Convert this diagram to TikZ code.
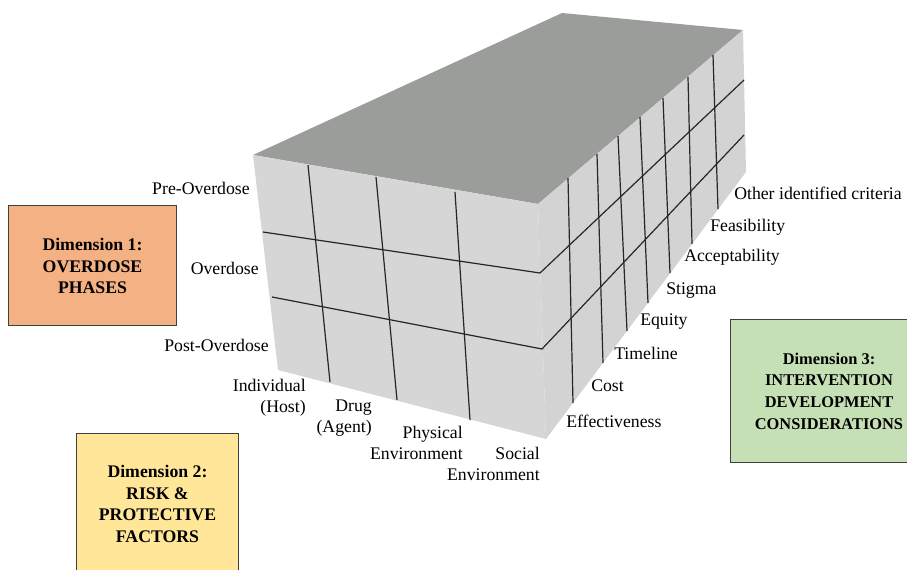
\documentclass[tikz,border=0pt]{standalone}
\usepackage{fontspec}
\setmainfont{Liberation Serif}
\usepackage{tikz}

\definecolor{topgray}{RGB}{155,157,155}
\definecolor{frontgray}{RGB}{213,214,213}
\definecolor{sidegray}{RGB}{210,211,210}
\definecolor{dimorange}{RGB}{244,177,131}
\definecolor{dimyellow}{RGB}{255,230,153}
\definecolor{dimgreen}{RGB}{197,224,180}

\begin{document}
\begin{tikzpicture}[
	x=0.75pt, y=-0.75pt,
	gridline/.style={draw=black!85, line width=0.9pt},
	axistext/.style={inner sep=0pt, font=\fontsize{13.3}{15.8}\selectfont},
	dimbox/.style={draw=black!75, line width=0.75pt, align=center, inner sep=2pt,
		font=\fontsize{13.3}{16.2}\selectfont\bfseries}
	]
	\useasboundingbox (0,0) rectangle (907,570);
	\clip (0,0) rectangle (907,570);
	
	%-----------------------
	% Box corners
	%-----------------------
	\coordinate (FTL) at (253,155);
	\coordinate (FTR) at (538,204);
	\coordinate (FBL) at (278,370);
	\coordinate (FBR) at (546,439);
	\coordinate (BTL) at (562,13);
	\coordinate (BTR) at (743,30);
	\coordinate (BBR) at (746,172);
	
	%-----------------------
	% Faces
	%-----------------------
	\fill[topgray] (FTL) -- (BTL) -- (BTR) -- (FTR) -- cycle;
	\fill[frontgray] (FTL) -- (FTR) -- (FBR) -- (FBL) -- cycle;
	\fill[sidegray] (FTR) -- (BTR) -- (BBR) -- (FBR) -- cycle;
	
	%-----------------------
	% Phase lines (front + side)
	%-----------------------
	\draw[gridline] (263,232) -- (540,273) -- (744,80);
	\draw[gridline] (272,297) -- (542,349) -- (744,135);
	
	%-----------------------
	% Risk factor columns (front)
	%-----------------------
	\draw[gridline] (308,165) -- (330,382);
	\draw[gridline] (376,177) -- (397,400);
	\draw[gridline] (455,192) -- (470,420);
	
	%-----------------------
	% Criteria columns (side)
	%-----------------------
	\foreach \xt/\yt/\xb/\yb in {568/178/573/403, 597/154/603/363, 618/136/627/331,
		640/117/648/303, 663/98/670/273, 688/77/692/244, 713/55/718/209}
		\draw[gridline] (\xt,\yt) -- (\xb,\yb);
	
	%-----------------------
	% Phase labels
	%-----------------------
	\node[axistext, anchor=base east] (pre) at (250,195) {Pre-Overdose};
	\node[axistext, anchor=base east] (od) at (259,275) {Overdose};
	\node[axistext, anchor=base east] (post) at (269,352) {Post-Overdose};
	
	%-----------------------
	% Risk factor labels
	%-----------------------
	\node[axistext, anchor=east, align=right] (host) at (306,398) {Individual\\(Host)};
	\node[axistext, anchor=east, align=right] (agent) at (372,418) {Drug\\(Agent)};
	\node[axistext, anchor=east, align=right] (phys) at (463,443) {Physical\\Environment};
	\node[axistext, anchor=east, align=right] (soc) at (540,464) {Social\\Environment};
	
	%-----------------------
	% Criteria labels
	%-----------------------
	\node[axistext, anchor=base west] (eff) at (566,427) {Effectiveness};
	\node[axistext, anchor=base west] (cost) at (591,392) {Cost};
	\node[axistext, anchor=base west] (time) at (614,359) {Timeline};
	\node[axistext, anchor=base west] (eq) at (640,326) {Equity};
	\node[axistext, anchor=base west] (stig) at (666,295) {Stigma};
	\node[axistext, anchor=base west] (acc) at (684,262) {Acceptability};
	\node[axistext, anchor=base west] (feas) at (710,232) {Feasibility};
	\node[axistext, anchor=base west] (other) at (734,200) {Other identified criteria};
	
	%-----------------------
	% Dimension boxes
	%-----------------------
	\node[dimbox, fill=dimorange, minimum width=125.3pt, minimum height=90pt] (dim1) at (92.5,266)
		{Dimension 1:\\OVERDOSE\\PHASES};
	\node[dimbox, fill=dimyellow, minimum width=120.8pt, minimum height=106.5pt] (dim2) at (157.5,504)
		{Dimension 2:\\RISK \&\\PROTECTIVE\\FACTORS};
	\node[dimbox, fill=dimgreen, minimum width=148.5pt, minimum height=106.5pt,
		font=\fontsize{12.3}{16.2}\selectfont\bfseries] (dim3) at (829,391)
		{Dimension 3:\\INTERVENTION\\DEVELOPMENT\\CONSIDERATIONS};
	
\end{tikzpicture}
\end{document}
